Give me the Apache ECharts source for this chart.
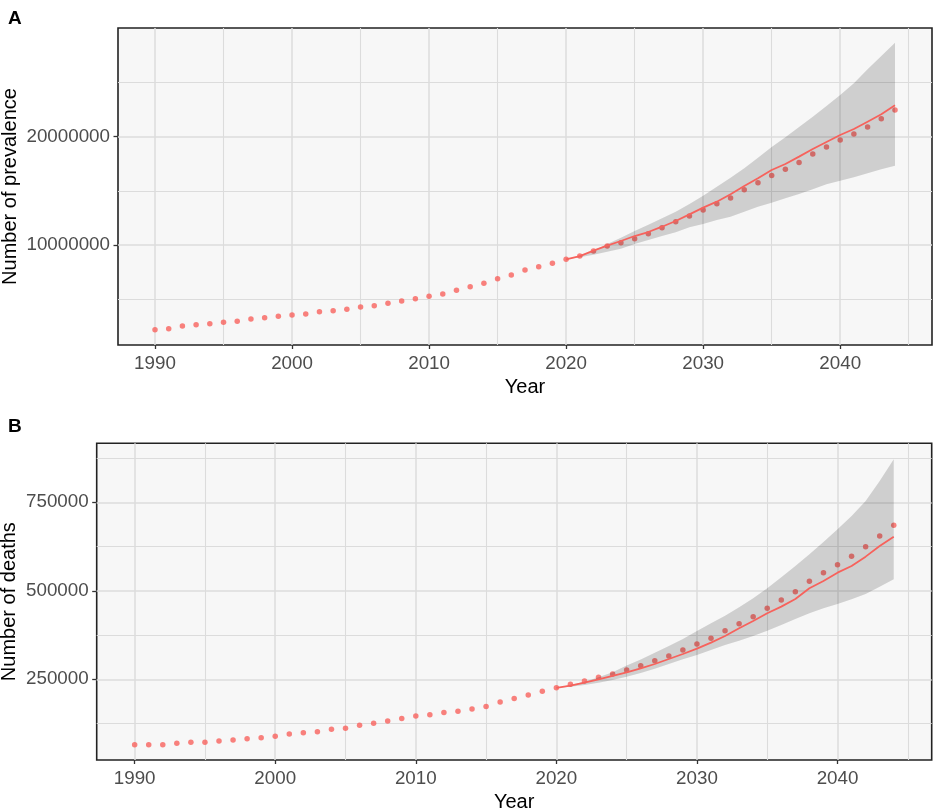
<!DOCTYPE html>
<html style="height: 100%">

<head>
  <meta charset="utf-8">
</head>

<body style="height: 100%; margin: 0; background: #fff">
  <div id="container" style="width: 935px; height: 810px"></div>
  <script type="text/javascript" src="https://cdn.jsdelivr.net/npm/echarts@6/dist/echarts.min.js"></script>
  <script type="text/javascript">
    var years = [1990, 1991, 1992, 1993, 1994, 1995, 1996, 1997, 1998, 1999,
      2000, 2001, 2002, 2003, 2004, 2005, 2006, 2007, 2008, 2009,
      2010, 2011, 2012, 2013, 2014, 2015, 2016, 2017, 2018, 2019,
      2020, 2021, 2022, 2023, 2024, 2025, 2026, 2027, 2028, 2029,
      2030, 2031, 2032, 2033, 2034, 2035, 2036, 2037, 2038, 2039,
      2040, 2041, 2042, 2043, 2044];
    var predYears = [2020, 2021, 2022, 2023, 2024, 2025, 2026, 2027, 2028, 2029,
      2030, 2031, 2032, 2033, 2034, 2035, 2036, 2037, 2038, 2039,
      2040, 2041, 2042, 2043, 2044];

    // A: prevalence
    var prevalence = [2180000, 2270000, 2520000, 2640000, 2730000, 2860000, 2950000, 3170000, 3290000, 3420000,
      3540000, 3630000, 3840000, 3930000, 4060000, 4280000, 4400000, 4620000, 4830000, 5040000,
      5260000, 5480000, 5820000, 6150000, 6460000, 6890000, 7230000, 7690000, 8000000, 8310000,
      8680000, 8980000, 9450000, 9910000, 10220000, 10580000, 11050000, 11600000, 12150000, 12680000,
      13230000, 13820000, 14340000, 15110000, 15760000, 16430000, 16990000, 17630000, 18400000, 19050000,
      19700000, 20250000, 20900000, 21660000, 22470000];
    var prevFit = [8680000, 8980000, 9480000, 9940000, 10370000, 10830000, 11200000, 11690000, 12220000, 12830000,
      13450000, 14000000, 14680000, 15450000, 16160000, 16930000, 17480000, 18160000, 18860000, 19510000,
      20160000, 20710000, 21390000, 22070000, 22900000];
    var prevUpper = [8680000, 9010000, 9480000, 10090000, 10680000, 11290000, 11880000, 12460000, 13080000, 13790000,
      14560000, 15390000, 16220000, 17080000, 18050000, 19050000, 19950000, 20900000, 21850000, 22840000,
      23850000, 24930000, 26220000, 27450000, 28680000];
    var prevLower = [8680000, 8860000, 9110000, 9380000, 9660000, 10090000, 10460000, 10830000, 11170000, 11630000,
      11940000, 12310000, 12620000, 13080000, 13540000, 13910000, 14310000, 14710000, 15140000, 15600000,
      15940000, 16250000, 16620000, 16990000, 17330000];

    // B: deaths
    var deaths = [65000, 65000, 65000, 69000, 72000, 72000, 76000, 78500, 82000, 85000,
      89000, 95500, 99000, 102000, 109000, 111500, 120000, 125600, 132000, 139000,
      146000, 150000, 156000, 159500, 166000, 173000, 186000, 196000, 205600, 216000,
      226400, 235800, 245200, 255600, 265000, 276300, 288500, 302600, 315800, 332800,
      349700, 365700, 387400, 407200, 426900, 450500, 474000, 497600, 526800, 551200,
      573800, 597400, 624700, 654800, 685000];
    var deathFit = [226000, 232000, 240500, 250000, 259300, 269700, 281000, 293200, 307300, 321500,
      336500, 353500, 372300, 394000, 414700, 436400, 455200, 476800, 507000, 527700,
      551200, 570000, 596400, 626600, 652900];
    var deathUpper = [226400, 233900, 243200, 255600, 269800, 289000, 306000, 325000, 344000, 364000,
      386400, 408200, 429700, 453400, 478800, 507000, 538200, 570000, 603000, 637900,
      673700, 711300, 753700, 810200, 871500];
    var deathLower = [226400, 229100, 233900, 240400, 248000, 257300, 268000, 280000, 293000, 306500,
      318600, 332800, 346900, 359000, 372300, 387300, 403400, 420300, 436400, 450600,
      462700, 476000, 491000, 511600, 532500];

    // tick labels and grid lines
    var xTicks = [1990, 2000, 2010, 2020, 2030, 2040];
    var xMinor = [1995, 2005, 2015, 2025, 2035, 2045];
    var prevTicks = [10000000, 20000000];
    var prevMinor = [5000000, 15000000, 25000000];
    var deathTicks = [250000, 500000, 750000];
    var deathMinor = [125000, 375000, 625000, 875000];

    var RED = '#F7625C';
    var FONT = 'Liberation Sans, Arial, sans-serif';

    function pairs(xs, ys) {
      return xs.map(function (x, i) { return [x, ys[i]]; });
    }

    function xAxisFor(idx) {
      return {
        type: 'value', gridIndex: idx, min: 1987.3, max: 2046.7,
        axisLine: { show: false },
        splitLine: { show: false },
        axisTick: { customValues: xTicks, length: 4, lineStyle: { color: '#333', width: 1.3 } },
        axisLabel: {
          customValues: xTicks, fontSize: 18.8, color: '#4d4d4d', margin: 9, fontFamily: FONT,
          formatter: function (v) { return String(v); }
        },
        name: 'Year', nameLocation: 'middle', nameGap: 32,
        nameTextStyle: { fontSize: 20, color: '#000', fontFamily: FONT }
      };
    }

    function yAxisFor(idx, min, max, ticks, title, gap) {
      return {
        type: 'value', gridIndex: idx, min: min, max: max,
        axisLine: { show: false },
        splitLine: { show: false },
        axisTick: { customValues: ticks, length: 4.5, lineStyle: { color: '#333', width: 1.3 } },
        axisLabel: {
          customValues: ticks, fontSize: 18.8, color: '#4d4d4d', margin: 8, fontFamily: FONT,
          formatter: function (v) { return String(v); }
        },
        name: title, nameLocation: 'middle', nameRotate: 90, nameGap: gap,
        nameMoveOverlap: false,
        nameTextStyle: { fontSize: 20, color: '#000', fontFamily: FONT }
      };
    }

    function gridLines(idx, yMajor, yMinor) {
      var data = [];
      xTicks.forEach(function (v) { data.push({ xAxis: v, lineStyle: { width: 1.5 } }); });
      xMinor.forEach(function (v) { data.push({ xAxis: v, lineStyle: { width: 1.1 } }); });
      yMajor.forEach(function (v) { data.push({ yAxis: v, lineStyle: { width: 1.5 } }); });
      yMinor.forEach(function (v) { data.push({ yAxis: v, lineStyle: { width: 1.1 } }); });
      return {
        type: 'scatter', xAxisIndex: idx, yAxisIndex: idx, data: [], silent: true,
        markLine: {
          z: 1, silent: true, symbol: ['none', 'none'], label: { show: false },
          lineStyle: { type: 'solid', color: '#dcdcdc' },
          emphasis: { disabled: true },
          data: data
        }
      };
    }

    // prediction interval drawn as one polygon through the axes' coordinates
    function bandSeries(idx, up, lo) {
      var rows = predYears.map(function (y, i) { return [y, lo[i], up[i]]; });
      return {
        type: 'custom', xAxisIndex: idx, yAxisIndex: idx, z: 3, silent: true,
        encode: { x: 0, y: [1, 2] },
        data: rows,
        renderItem: function (params, api) {
          if (params.dataIndex !== 0) return;
          var pts = [];
          rows.forEach(function (r) { pts.push(api.coord([r[0], r[2]])); });
          for (var i = rows.length - 1; i >= 0; i--) pts.push(api.coord([rows[i][0], rows[i][1]]));
          return {
            type: 'polygon',
            shape: { points: pts },
            style: { fill: 'rgba(0,0,0,0.16)', stroke: null }
          };
        }
      };
    }

    function panelSeries(idx, obs, fit, up, lo) {
      return [
        gridLines(idx, idx === 0 ? prevTicks : deathTicks, idx === 0 ? prevMinor : deathMinor),
        {
          type: 'scatter', xAxisIndex: idx, yAxisIndex: idx, z: 2,
          symbol: 'circle', symbolSize: 5.5,
          itemStyle: { color: RED },
          data: pairs(years, obs)
        },
        bandSeries(idx, up, lo),
        {
          type: 'line', xAxisIndex: idx, yAxisIndex: idx, z: 4,
          symbol: 'none', lineStyle: { color: RED, width: 1.8 },
          data: pairs(predYears, fit)
        }
      ];
    }

    var dom = document.getElementById("container");
    var myChart = echarts.init(dom);
    var option = {
      animation: false,
      backgroundColor: '#fff',
      title: [
        { text: 'A', left: 8, top: 9, padding: 0, textStyle: { fontSize: 19, fontWeight: 'bold', color: '#000', fontFamily: FONT } },
        { text: 'B', left: 8, top: 417, padding: 0, textStyle: { fontSize: 19, fontWeight: 'bold', color: '#000', fontFamily: FONT } }
      ],
      grid: [
        { left: 118, top: 28, width: 814, height: 317, outerBoundsMode: 'none', show: true, backgroundColor: '#f7f7f7', borderColor: '#222', borderWidth: 1.6 },
        { left: 96.7, top: 443.3, width: 835, height: 316.7, outerBoundsMode: 'none', show: true, backgroundColor: '#f7f7f7', borderColor: '#222', borderWidth: 1.6 }
      ],
      xAxis: [xAxisFor(0), xAxisFor(1)],
      yAxis: [
        yAxisFor(0, 766000, 30040000, prevTicks, 'Number of prevalence', 98),
        yAxisFor(1, 22000, 916600, deathTicks, 'Number of deaths', 77)
      ],
      series: panelSeries(0, prevalence, prevFit, prevUpper, prevLower)
        .concat(panelSeries(1, deaths, deathFit, deathUpper, deathLower))
    };
    myChart.setOption(option);
  </script>
</body>

</html>
